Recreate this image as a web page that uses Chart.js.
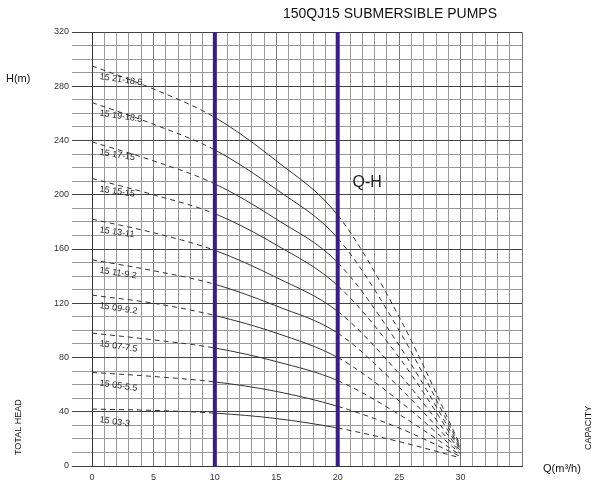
<!DOCTYPE html>
<html><head><meta charset="utf-8">
<script src="https://cdn.jsdelivr.net/npm/chart.js@4"></script>
<style>html,body{margin:0;padding:0;background:#fff}#w{width:600px;height:489px;position:relative}</style>
</head><body><div id="w"><canvas id="c"></canvas></div>
<script>
const flows = [0, 5, 10, 15, 20, 25, 30];
const models = ['15 21-18.5','15 19-18.5','15 17-15','15 15-15','15 13-11','15 11-9.2','15 09-9.2','15 07-7.5','15 05-5.5','15 03-3'];
const h21 = [295,278,257,225,185,110,15];
const h19 = [268,252,233,204,168,100,14];
const h17 = [239,225,208,182,150,89,13];
const h15 = [212,200,186,163,133,80,12];
const h13 = [182,172,159,139,114,68,11];
const h11 = [152,144,134,118,98,58,10];
const h09 = [126,120,111,98,80,48,9];
const h07 = [98,93,87,77,63,38,8];
const h05 = [69,66,62,55,44,28,7];
const h03 = [42,41,39,35,28,18,6];
const heads = [h21,h19,h17,h15,h13,h11,h09,h07,h05,h03];
const markerQ = [10, 20];
const xTickLabels = [0,5,10,15,20,25,30];

const datasets = heads.map((h,i)=>({
  label: models[i],
  data: flows.map((q,j)=>({x:q,y:h[j]})),
  borderColor:'#333', borderWidth:1, pointRadius:0, tension:0, cubicInterpolationMode:'monotone',
  segment:{borderDash: ctx => (ctx.p0.parsed.x>=10 && ctx.p1.parsed.x<=20) ? [] : [5,4]}
}));
markerQ.forEach(q=>datasets.push({
  data:[{x:q,y:0},{x:q,y:320}], borderColor:'#3b1c8c', borderWidth:4, pointRadius:0
}));

const deco = {
  id:'deco',
  afterDatasetsDraw(chart){
    const c=chart.ctx, xs=chart.scales.x, ys=chart.scales.y;
    c.save();
    c.fillStyle='#222';
    c.font='9px "Liberation Sans", Arial';
    heads.forEach((h,i)=>{
      const px=xs.getPixelForValue(0.6), py=ys.getPixelForValue(h[0])+13;
      c.save(); c.translate(px,py); c.rotate(0.15); c.fillText(models[i],0,0); c.restore();
    });
    c.font='16px "Liberation Sans", Arial';
    c.fillText('Q-H', xs.getPixelForValue(21.2), ys.getPixelForValue(206));
    c.fillStyle='#111';
    c.font='14px "Liberation Sans", Arial';
    c.fillText('150QJ15 SUBMERSIBLE PUMPS', 283, 18);
    c.font='11px "Liberation Sans", Arial';
    c.fillText('H(m)', 6, 82);
    c.fillText('Q(m³/h)', 543, 472);
    c.font='9px "Liberation Sans", Arial';
    c.save(); c.translate(21,455); c.rotate(-Math.PI/2); c.fillText('TOTAL HEAD',0,0); c.restore();
    c.save(); c.translate(591,450); c.rotate(-Math.PI/2); c.fillText('CAPACITY',0,0); c.restore();
    c.restore();
  }
};

new Chart(document.getElementById('c'),{
  type:'line',
  data:{datasets},
  options:{
    responsive:true, maintainAspectRatio:false, animation:false,
    layout:{padding:{top:32,right:78,left:0,bottom:0}},
    plugins:{legend:{display:false},tooltip:{enabled:false}},
    scales:{
      x:{type:'linear',min:0,max:35,
        afterFit(s){s.height=23;},
        border:{color:'#333'},
        grid:{color:ctx=>ctx.tick.value%5===0?'#777':'#999',lineWidth:1,drawTicks:false},
        ticks:{stepSize:1,autoSkip:false,maxRotation:0,padding:6,color:'#333',font:{size:9,family:'"Liberation Sans", Arial'},
          callback:v=>xTickLabels.includes(v)?String(v):''}},
      y:{min:0,max:320,
        afterFit(s){s.width=92;},
        border:{color:'#333'},
        grid:{color:ctx=>ctx.tick.value%40===0?'#444':'#999',lineWidth:1,tickLength:20,
          drawTicks:true},
        ticks:{stepSize:10,autoSkip:false,padding:3,color:'#333',font:{size:9,family:'"Liberation Sans", Arial'},
          callback:v=>v%40===0?String(v):''}}
    }
  },
  plugins:[deco]
});
</script></body></html>
